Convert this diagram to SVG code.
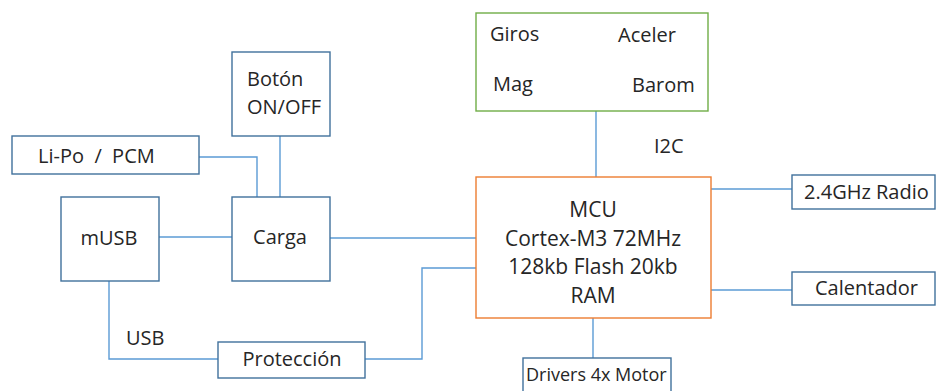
<svg xmlns="http://www.w3.org/2000/svg" width="938" height="391" viewBox="0 0 938 391">
<style>
.box{fill:#fff;stroke:#41719C;stroke-width:1.4}
.sens{fill:#fff;stroke:#70AD47;stroke-width:1.4}
.mcu{fill:#fff;stroke:#ED7D31;stroke-width:1.4}
.ln{fill:none;stroke:#5B9BD5;stroke-width:1.4}
text{font-family:"Open Sans","Liberation Sans",sans-serif;font-size:20px;fill:#262626;white-space:pre}
.c{text-anchor:middle}
.m{font-size:21px}
</style>
<rect width="938" height="391" fill="#fff"/>
<g id="connectors">
<polyline class="ln" points="199,157 257,157 257,197"/>
<line class="ln" x1="280" y1="136" x2="280" y2="197"/>
<line class="ln" x1="159" y1="237" x2="232" y2="237"/>
<line class="ln" x1="330" y1="238" x2="476" y2="238"/>
<polyline class="ln" points="109,281 109,359 218,359"/>
<polyline class="ln" points="365,359 422,359 422,268 476,268"/>
<line class="ln" x1="596" y1="111" x2="596" y2="177"/>
<line class="ln" x1="711" y1="189" x2="792" y2="189"/>
<line class="ln" x1="711" y1="290" x2="792" y2="290"/>
<line class="ln" x1="593" y1="318" x2="593" y2="358"/>
</g>
<g id="lipo"><rect class="box" x="12" y="136" width="187" height="38"/><text x="38" y="163" xml:space="preserve">Li-Po  /  PCM</text></g>
<g id="boton"><rect class="box" x="232" y="52" width="98" height="84"/><text x="247" y="86">Botón</text><text x="247" y="114">ON/OFF</text></g>
<g id="musb"><rect class="box" x="61" y="197" width="98" height="84"/><text class="c" x="109" y="245">mUSB</text></g>
<g id="carga"><rect class="box" x="232" y="197" width="98" height="84"/><text class="c" x="280" y="244">Carga</text></g>
<g id="proteccion"><rect class="box" x="218" y="342" width="147" height="36"/><text class="c" x="292" y="366">Protección</text><text x="126" y="345">USB</text></g>
<g id="sensores"><rect class="sens" x="476" y="13" width="232" height="98"/><text x="490" y="41">Giros</text><text x="618" y="42">Aceler</text><text x="493" y="91">Mag</text><text x="632" y="92">Barom</text></g>
<text x="654" y="153">I2C</text>
<g id="mcu"><rect class="mcu" x="476" y="177" width="235" height="141"/>
<text class="c m" x="593" y="217">MCU</text>
<text class="c m" x="593" y="246">Cortex-M3 72MHz</text>
<text class="c m" x="593" y="274">128kb Flash 20kb</text>
<text class="c m" x="593" y="303">RAM</text></g>
<g id="radio"><rect class="box" x="792" y="175" width="143" height="34"/><text x="804" y="199">2.4GHz Radio</text></g>
<g id="calentador"><rect class="box" x="792" y="272" width="143" height="33"/><text x="815" y="295">Calentador</text></g>
<g id="drivers"><rect class="box" x="523" y="358" width="148" height="40"/><text x="526" y="381" style="font-size:18px">Drivers 4x Motor</text></g>
</svg>
